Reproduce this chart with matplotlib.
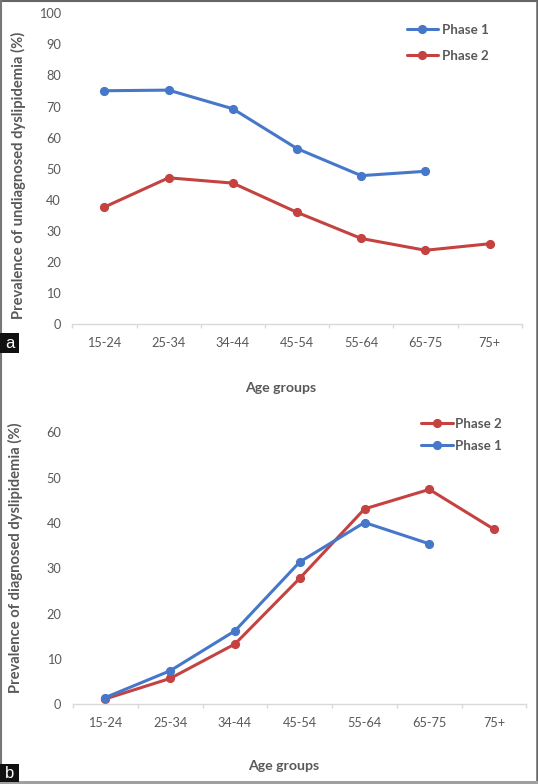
import matplotlib
matplotlib.use("Agg")
import matplotlib.pyplot as plt
from matplotlib.patches import Rectangle
from matplotlib.lines import Line2D
from matplotlib.ticker import FixedLocator, NullFormatter

plt.rcParams['font.family'] = ['Lato', 'DejaVu Sans']

age_groups = ["15-24", "25-34", "34-44", "45-54", "55-64", "65-75", "75+"]

# Panel a: undiagnosed dyslipidemia (%)
undiag_phase1 = [75.1, 75.3, 69.3, 56.5, 47.8, 49.2]
undiag_phase2 = [37.7, 47.1, 45.4, 36.0, 27.6, 23.8, 25.9]

# Panel b: diagnosed dyslipidemia (%)
diag_phase2 = [1.2, 5.7, 13.3, 27.8, 43.1, 47.4, 38.6]
diag_phase1 = [1.5, 7.4, 16.2, 31.4, 40.1, 35.4]

BLUE = "#4677C8"
RED = "#C4423F"
TXT = "#595959"
AXC = "#D9D9D9"

W, H = 538, 784
fig = plt.figure(figsize=(W / 100, H / 100), dpi=100)


def style_axes(ax, ymax, ystep):
    n = len(age_groups)
    ax.set_xlim(-0.5, n - 0.5)
    ax.set_ylim(0, ymax)
    ax.set_xticks(range(n))
    ax.set_xticklabels(age_groups)
    ax.xaxis.set_minor_locator(FixedLocator([i - 0.5 for i in range(n + 1)]))
    ax.xaxis.set_minor_formatter(NullFormatter())
    ax.set_yticks(range(0, ymax + 1, ystep))
    for s in ["top", "right", "left"]:
        ax.spines[s].set_visible(False)
    ax.spines["bottom"].set_color(AXC)
    ax.spines["bottom"].set_linewidth(1.0)
    ax.tick_params(axis="x", which="major", length=0, pad=9, labelsize=9.2, labelcolor=TXT)
    ax.tick_params(axis="x", which="minor", length=3.1, width=1.0, color=AXC)
    ax.tick_params(axis="y", length=0, pad=8.3, labelsize=9.2, labelcolor=TXT)
    ax.patch.set_alpha(0)


def plot_series(ax, vals, color, label):
    x = list(range(len(vals)))
    return ax.plot(x, vals, color=color, lw=2.2, marker="o", ms=5.6,
                   label=label, solid_capstyle="round", clip_on=False)[0]


# ---- Panel a
ax1 = fig.add_axes([72.3 / W, 1 - 324.3 / H, 449.4 / W, (324.3 - 13.3) / H])
style_axes(ax1, 100, 10)
l1 = plot_series(ax1, undiag_phase1, BLUE, "Phase 1")
l2 = plot_series(ax1, undiag_phase2, RED, "Phase 2")
leg1 = ax1.legend(handles=[l1, l2], loc="center left",
                  bbox_to_anchor=(406.5 / W, 1 - 43 / H), bbox_transform=fig.transFigure,
                  frameon=False, borderpad=0, borderaxespad=0, handlelength=2.35,
                  handletextpad=0.3, labelspacing=1.05, prop={"weight": "bold", "size": 9.6})
for t in leg1.get_texts():
    t.set_color(TXT)
fig.text(18.9 / W, 1 - 175 / H, "Prevalence of undiagnosed dyslipidemia (%)", rotation=90,
         ha="center", va="center", fontsize=10.6, fontweight="bold", color=TXT)
fig.text(281 / W, 1 - 388 / H, "Age groups", ha="center", va="center",
         fontsize=10.2, fontweight="bold", color=TXT)

# ---- Panel b
ax2 = fig.add_axes([73 / W, 1 - 704.3 / H, 453.5 / W, (704.3 - 432.3) / H])
style_axes(ax2, 60, 10)
m2 = plot_series(ax2, diag_phase2, RED, "Phase 2")
m1 = plot_series(ax2, diag_phase1, BLUE, "Phase 1")
leg2 = ax2.legend(handles=[m2, m1], loc="center left",
                  bbox_to_anchor=(420.7 / W, 1 - 435 / H), bbox_transform=fig.transFigure,
                  frameon=False, borderpad=0, borderaxespad=0, handlelength=2.4,
                  handletextpad=0.2, labelspacing=0.75, prop={"weight": "bold", "size": 9.6})
for t in leg2.get_texts():
    t.set_color(TXT)
fig.text(15.4 / W, 1 - 558 / H, "Prevalence of diagnosed dyslipidemia (%)", rotation=90,
         ha="center", va="center", fontsize=10.6, fontweight="bold", color=TXT)
fig.text(284 / W, 1 - 766 / H, "Age groups", ha="center", va="center",
         fontsize=10.2, fontweight="bold", color=TXT)

# ---- panel letters
for (y0, y1, letter) in [(333, 353, "a"), (764, 782, "b")]:
    fig.patches.append(Rectangle((0, 1 - y1 / H), 19 / W, (y1 - y0) / H,
                                 transform=fig.transFigure, facecolor="#111111",
                                 edgecolor="none", zorder=5))
    fig.text(9.5 / W, 1 - (y0 + y1) / 2 / H, letter, ha="center", va="center",
             fontsize=12, color="white", zorder=6, family=["Liberation Sans", "DejaVu Sans"])

# ---- frame
fig.lines.append(Line2D([0, 1], [1 - 1 / H, 1 - 1 / H], transform=fig.transFigure, color="#666666", lw=1.5))
fig.lines.append(Line2D([1 / W, 1 / W], [0, 1], transform=fig.transFigure, color="#777777", lw=1.5))
fig.lines.append(Line2D([1 - 1.5 / W, 1 - 1.5 / W], [0, 1], transform=fig.transFigure, color="#666666", lw=1.8))
fig.patches.append(Rectangle((0, 0), 1, 3.5 / H, transform=fig.transFigure,
                             facecolor="#A0A0A0", edgecolor="none", zorder=4))

fig.savefig("out.png", dpi=100)
